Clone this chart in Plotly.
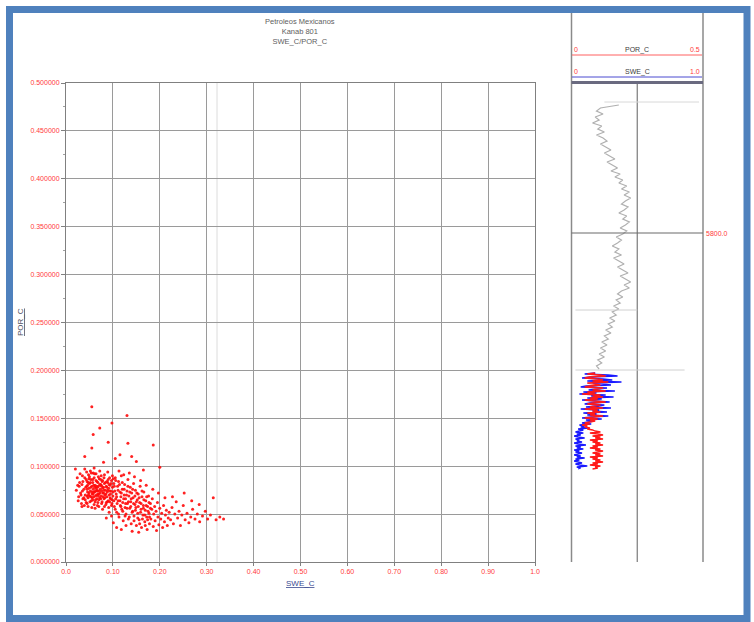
import plotly.graph_objects as go

# ---------------- data ----------------
title_lines = ["Petroleos Mexicanos", "Kanab 801", "SWE_C/POR_C"]
x_tick_vals = [0.0, 0.1, 0.2, 0.3, 0.4, 0.5, 0.6, 0.7, 0.8, 0.9, 1.0]
x_tick_text = ["0.0", "0.10", "0.20", "0.30", "0.40", "0.50", "0.60", "0.70", "0.80", "0.90", "1.0"]
y_tick_vals = [0.0, 0.05, 0.1, 0.15, 0.2, 0.25, 0.3, 0.35, 0.4, 0.45, 0.5]
y_tick_text = ["0.000000", "0.050000", "0.100000", "0.150000", "0.200000", "0.250000",
               "0.300000", "0.350000", "0.400000", "0.450000", "0.500000"]

swe_c = [
    0.031, 0.034, 0.036, 0.038, 0.040, 0.041, 0.043, 0.044, 0.045, 0.046, 0.047, 0.048, 0.049, 0.050,
    0.051, 0.052, 0.053, 0.054, 0.055, 0.056, 0.057, 0.058, 0.059, 0.060, 0.061, 0.062, 0.063, 0.064,
    0.065, 0.066, 0.067, 0.068, 0.069, 0.070, 0.071, 0.072, 0.073, 0.074, 0.075, 0.076, 0.077, 0.078,
    0.079, 0.080, 0.081, 0.082, 0.083, 0.084, 0.085, 0.086, 0.087, 0.088, 0.089, 0.090, 0.091, 0.092,
    0.094, 0.095, 0.096, 0.098, 0.099, 0.100, 0.052, 0.058, 0.064, 0.047, 0.055, 0.062, 0.070, 0.078,
    0.044, 0.039, 0.035, 0.029, 0.027, 0.033, 0.060, 0.072, 0.082, 0.089, 0.093, 0.097, 0.102, 0.104,
    0.106, 0.053, 0.066, 0.074, 0.059, 0.068, 0.049, 0.063, 0.057, 0.076, 0.045, 0.067,
    0.103, 0.105, 0.107, 0.108, 0.110, 0.111, 0.112, 0.113, 0.115, 0.116, 0.117, 0.118, 0.119, 0.120,
    0.121, 0.122, 0.124, 0.125, 0.126, 0.127, 0.128, 0.130, 0.131, 0.132, 0.133, 0.134, 0.136, 0.137,
    0.138, 0.139, 0.140, 0.142, 0.143, 0.144, 0.145, 0.147, 0.148, 0.149, 0.150, 0.152, 0.153, 0.154,
    0.156, 0.157, 0.158, 0.160, 0.161, 0.162, 0.164, 0.165, 0.166, 0.168, 0.169, 0.170, 0.172, 0.173,
    0.174, 0.176, 0.177, 0.178, 0.180, 0.181, 0.183, 0.184, 0.186, 0.187, 0.189, 0.190, 0.192, 0.193,
    0.195, 0.196, 0.198, 0.200, 0.202, 0.204, 0.206, 0.208, 0.210, 0.212, 0.214, 0.216, 0.218, 0.220,
    0.108, 0.118, 0.128, 0.141, 0.155, 0.097, 0.092, 0.086, 0.101, 0.113, 0.123, 0.135, 0.146, 0.159,
    0.171, 0.185, 0.197, 0.211,
    0.223, 0.226, 0.229, 0.232, 0.235, 0.238, 0.241, 0.244, 0.247, 0.250, 0.254, 0.258, 0.262, 0.266,
    0.270, 0.275, 0.280, 0.285, 0.291, 0.297, 0.302, 0.308, 0.314, 0.320, 0.328, 0.336, 0.227, 0.252,
    0.268, 0.284,
    0.055, 0.130, 0.058, 0.098, 0.072, 0.132, 0.186, 0.055, 0.115, 0.200, 0.105, 0.040, 0.080, 0.150,
    0.165, 0.090, 0.020, 0.025, 0.140,
    0.022, 0.024, 0.026, 0.028, 0.030, 0.032, 0.034, 0.036, 0.038, 0.040, 0.042, 0.043, 0.045, 0.046,
    0.048, 0.050, 0.051, 0.053, 0.054, 0.056, 0.057, 0.059, 0.060, 0.061, 0.063, 0.064, 0.066, 0.067,
    0.069, 0.070, 0.072, 0.073, 0.075, 0.076, 0.078, 0.079, 0.081, 0.082, 0.084, 0.085, 0.087, 0.088,
    0.090, 0.091, 0.093, 0.094, 0.096, 0.097, 0.099, 0.100, 0.102, 0.103, 0.105, 0.106, 0.108, 0.109,
    0.111, 0.112, 0.114, 0.115, 0.117, 0.118, 0.120, 0.121, 0.123, 0.124, 0.126, 0.127, 0.129, 0.130,
    0.132, 0.133, 0.135, 0.136, 0.138, 0.139, 0.141, 0.142, 0.144, 0.145, 0.147, 0.148, 0.150, 0.151,
    0.153, 0.154, 0.156, 0.157, 0.159, 0.160, 0.162, 0.163, 0.165, 0.166, 0.168, 0.169, 0.171, 0.172,
    0.174, 0.175, 0.177, 0.178, 0.180, 0.045, 0.052, 0.058, 0.065, 0.071, 0.077, 0.083, 0.089, 0.095,
    0.101, 0.062, 0.068, 0.074, 0.080, 0.086, 0.092, 0.098, 0.047, 0.055, 0.061, 0.069, 0.075, 0.081,
    0.087, 0.093, 0.035, 0.041, 0.049,
]
por_c = [
    0.072, 0.081, 0.066, 0.076, 0.088, 0.070, 0.062, 0.079, 0.084, 0.073, 0.067, 0.091, 0.077, 0.082,
    0.069, 0.074, 0.086, 0.064, 0.079, 0.071, 0.083, 0.076, 0.068, 0.088, 0.073, 0.080, 0.065, 0.077,
    0.070, 0.084, 0.074, 0.062, 0.079, 0.071, 0.087, 0.067, 0.076, 0.081, 0.069, 0.074, 0.063, 0.085,
    0.072, 0.078, 0.066, 0.082, 0.070, 0.075, 0.060, 0.079, 0.068, 0.073, 0.083, 0.064, 0.077, 0.070,
    0.080, 0.066, 0.074, 0.061, 0.078, 0.069, 0.095, 0.093, 0.092, 0.058, 0.057, 0.056, 0.058, 0.055,
    0.094, 0.059, 0.090, 0.083, 0.068, 0.061, 0.098, 0.095, 0.091, 0.094, 0.088, 0.085, 0.082, 0.074,
    0.066, 0.068, 0.066, 0.086, 0.073, 0.071, 0.072, 0.074, 0.065, 0.079, 0.069, 0.078,
    0.058, 0.088, 0.071, 0.052, 0.079, 0.064, 0.084, 0.047, 0.073, 0.059, 0.068, 0.090, 0.055, 0.076,
    0.062, 0.043, 0.070, 0.081, 0.057, 0.066, 0.050, 0.074, 0.061, 0.086, 0.045, 0.069, 0.056, 0.078,
    0.063, 0.040, 0.072, 0.053, 0.067, 0.082, 0.048, 0.060, 0.075, 0.057, 0.038, 0.065, 0.051, 0.071,
    0.044, 0.062, 0.079, 0.055, 0.036, 0.068, 0.049, 0.059, 0.073, 0.042, 0.054, 0.064, 0.047, 0.034,
    0.058, 0.069, 0.051, 0.040, 0.061, 0.045, 0.055, 0.066, 0.037, 0.050, 0.058, 0.043, 0.053, 0.033,
    0.062, 0.047, 0.039, 0.056, 0.045, 0.051, 0.036, 0.059, 0.042, 0.049, 0.054, 0.038, 0.046, 0.052,
    0.036, 0.034, 0.038, 0.032, 0.031, 0.048, 0.052, 0.046, 0.041, 0.095, 0.091, 0.093, 0.089, 0.085,
    0.080, 0.076, 0.072, 0.067,
    0.044, 0.057, 0.040, 0.050, 0.063, 0.046, 0.053, 0.038, 0.049, 0.059, 0.044, 0.051, 0.041, 0.047,
    0.055, 0.045, 0.050, 0.042, 0.048, 0.053, 0.045, 0.049, 0.067, 0.044, 0.047, 0.045, 0.068, 0.072,
    0.064, 0.060,
    0.162, 0.153, 0.133, 0.145, 0.140, 0.124, 0.122, 0.119, 0.112, 0.099, 0.108, 0.110, 0.104, 0.105,
    0.096, 0.125, 0.097, 0.080, 0.110,
    0.075, 0.088, 0.064, 0.079, 0.092, 0.070, 0.058, 0.084, 0.067, 0.097, 0.078, 0.086, 0.061, 0.080,
    0.070, 0.089, 0.063, 0.078, 0.093, 0.067, 0.086, 0.080, 0.060, 0.092, 0.069, 0.085, 0.075, 0.059,
    0.089, 0.065, 0.081, 0.072, 0.090, 0.061, 0.077, 0.068, 0.088, 0.058, 0.083, 0.071, 0.078, 0.063,
    0.086, 0.057, 0.074, 0.067, 0.082, 0.059, 0.090, 0.073, 0.064, 0.079, 0.055, 0.085, 0.068, 0.061,
    0.075, 0.050, 0.081, 0.064, 0.058, 0.072, 0.083, 0.053, 0.066, 0.076, 0.048, 0.061, 0.070, 0.056,
    0.079, 0.063, 0.047, 0.073, 0.058, 0.066, 0.052, 0.076, 0.061, 0.043, 0.069, 0.054, 0.063, 0.072,
    0.046, 0.058, 0.067, 0.040, 0.052, 0.061, 0.074, 0.045, 0.056, 0.065, 0.049, 0.038, 0.059, 0.068,
    0.044, 0.053, 0.062, 0.047, 0.056, 0.076, 0.083, 0.071, 0.079, 0.074, 0.084, 0.067, 0.075, 0.071,
    0.087, 0.063, 0.083, 0.066, 0.072, 0.062, 0.081, 0.065, 0.083, 0.073, 0.078, 0.069, 0.080, 0.075,
    0.084, 0.063, 0.074, 0.065, 0.087,
]

# log track: gray curve (0-1 scale) vs depth
gray_depth = [5672, 5675, 5678, 5681, 5684, 5687, 5690, 5693, 5696, 5699, 5702, 5705, 5708, 5711,
              5714, 5717, 5720, 5723, 5726, 5729, 5732, 5735, 5738, 5741, 5744, 5747, 5750, 5753,
              5756, 5759, 5762, 5765, 5768, 5771, 5774, 5777, 5780, 5783, 5786, 5789, 5792, 5795,
              5798, 5801, 5804, 5807, 5810, 5813, 5816, 5819, 5822, 5825, 5828, 5831, 5834, 5837,
              5840, 5843, 5846, 5849, 5852, 5855, 5858, 5861, 5864, 5867, 5870, 5873, 5876, 5879,
              5882, 5885, 5888, 5891, 5894, 5897, 5900, 5903, 5906, 5909, 5912, 5915, 5918, 5921,
              5924, 5927, 5930, 5933, 5936]
gray_val = [0.36, 0.22, 0.19, 0.24, 0.18, 0.21, 0.16, 0.23, 0.20, 0.25, 0.19, 0.24, 0.27, 0.22,
            0.26, 0.30, 0.25, 0.29, 0.33, 0.27, 0.31, 0.35, 0.30, 0.37, 0.33, 0.39, 0.36, 0.42,
            0.38, 0.44, 0.40, 0.45, 0.41, 0.38, 0.43, 0.40, 0.36, 0.42, 0.39, 0.44, 0.41, 0.37,
            0.42, 0.39, 0.34, 0.38, 0.35, 0.31, 0.36, 0.33, 0.38, 0.32, 0.36, 0.40, 0.35, 0.39,
            0.43, 0.37, 0.41, 0.45, 0.40, 0.44, 0.38, 0.35, 0.39, 0.34, 0.37, 0.32, 0.36, 0.31,
            0.34, 0.29, 0.33, 0.28, 0.31, 0.26, 0.30, 0.25, 0.28, 0.23, 0.27, 0.22, 0.26, 0.21,
            0.25, 0.20, 0.23, 0.19, 0.21]

log_depth = [5940, 5941, 5942, 5943, 5944, 5945, 5946, 5947, 5948, 5949, 5950, 5951, 5952, 5953,
             5954, 5955, 5956, 5957, 5958, 5959, 5960, 5961, 5962, 5963, 5964, 5965, 5966, 5967,
             5968, 5969, 5970, 5971, 5972, 5973, 5974, 5975, 5976, 5977, 5978, 5979, 5980, 5981,
             5982, 5983, 5984, 5985, 5986, 5987, 5988, 5989, 5990, 5991, 5992, 5993, 5994, 5995,
             5996, 5997, 5998, 5999, 6000, 6001, 6002, 6003, 6004, 6005, 6006, 6007, 6008, 6009,
             6010, 6011, 6012, 6013, 6014, 6015, 6016, 6017, 6018, 6019, 6020, 6021, 6022, 6023,
             6024, 6025, 6026, 6027, 6028, 6029, 6030, 6031, 6032, 6033, 6034, 6035, 6036]
log_por = [0.09, 0.06, 0.11, 0.13, 0.07, 0.05, 0.10, 0.12, 0.08, 0.14, 0.06, 0.09, 0.11, 0.07,
           0.05, 0.12, 0.10, 0.08, 0.13, 0.06, 0.09, 0.04, 0.11, 0.08, 0.12, 0.07, 0.10, 0.05,
           0.09, 0.13, 0.08, 0.06, 0.11, 0.09, 0.07, 0.12, 0.05, 0.10, 0.08, 0.11, 0.06, 0.09,
           0.07, 0.12, 0.08, 0.05, 0.10, 0.07, 0.09,
           0.06, 0.05, 0.07, 0.04, 0.06, 0.05, 0.07, 0.06, 0.08,
           0.09, 0.11, 0.07, 0.10, 0.12, 0.08, 0.11, 0.09, 0.12, 0.07, 0.10, 0.08, 0.11, 0.09,
           0.12, 0.08, 0.10, 0.07, 0.11, 0.09, 0.12, 0.10, 0.08, 0.11, 0.09, 0.12, 0.07, 0.10,
           0.08, 0.11, 0.09, 0.12, 0.08, 0.10, 0.07, 0.11, 0.09, 0.10, 0.08]
log_swe = [0.18, 0.10, 0.28, 0.35, 0.14, 0.08, 0.24, 0.31, 0.12, 0.38, 0.16, 0.22, 0.30, 0.11,
           0.07, 0.27, 0.20, 0.13, 0.33, 0.09, 0.19, 0.06, 0.26, 0.15, 0.32, 0.12, 0.23, 0.08,
           0.18, 0.29, 0.14, 0.10, 0.25, 0.20, 0.11, 0.30, 0.07, 0.21, 0.16, 0.27, 0.09, 0.19,
           0.12, 0.28, 0.15, 0.08, 0.23, 0.11, 0.17,
           0.12, 0.08, 0.15, 0.06, 0.10, 0.07, 0.13, 0.05, 0.09,
           0.06, 0.03, 0.09, 0.04, 0.07, 0.02, 0.05, 0.10, 0.03, 0.06, 0.04, 0.08, 0.02, 0.05,
           0.11, 0.03, 0.07, 0.04, 0.09, 0.02, 0.06, 0.03, 0.08, 0.05, 0.02, 0.07, 0.04, 0.10,
           0.03, 0.06, 0.02, 0.05, 0.08, 0.03, 0.06, 0.12, 0.04, 0.07, 0.05]
depth_label = 5800.0
depth_top, depth_bottom = 5650, 6129

# ---------------- layout helpers ----------------
W, H = 754, 622
def px(x):
    return x / W
def py(y):
    return 1 - y / H

RED_TXT = "#ff3a3a"
GRID = "#9a9a9a"
FONT = "Liberation Sans, Arial, sans-serif"

fig = go.Figure()

fig.add_trace(go.Scatter(
    x=swe_c, y=por_c, mode="markers",
    marker=dict(size=3, color="#ff0a0a", opacity=0.9, line=dict(width=0)),
    xaxis="x", yaxis="y", showlegend=False, hoverinfo="skip"))

fig.add_trace(go.Scatter(
    x=gray_val, y=gray_depth, mode="lines",
    line=dict(color="#b0b0b0", width=1.2),
    xaxis="x2", yaxis="y2", showlegend=False, hoverinfo="skip"))
fig.add_trace(go.Scatter(
    x=log_swe, y=log_depth, mode="lines",
    line=dict(color="#1a1aff", width=1.3),
    xaxis="x2", yaxis="y2", showlegend=False, hoverinfo="skip"))
fig.add_trace(go.Scatter(
    x=log_por, y=log_depth, mode="lines",
    line=dict(color="#ff1a1a", width=1.3),
    xaxis="x3", yaxis="y2", showlegend=False, hoverinfo="skip"))

tickfont = dict(family=FONT, size=7, color=RED_TXT)
fig.update_layout(
    width=W, height=H, margin=dict(l=0, r=0, t=0, b=0),
    paper_bgcolor="white", plot_bgcolor="white",
    xaxis=dict(domain=[px(66), px(535)], range=[0, 1], tickvals=x_tick_vals, ticktext=x_tick_text,
               tickfont=tickfont, showgrid=True, gridcolor=GRID, gridwidth=1, zeroline=False,
               showline=True, linecolor="#808080", mirror=True, ticks="outside", ticklen=3,
               tickcolor="#808080", automargin=False, anchor="y"),
    yaxis=dict(domain=[py(562), py(83)], range=[0, 0.5], tickvals=y_tick_vals, ticktext=y_tick_text,
               tickfont=tickfont, showgrid=True, gridcolor=GRID, gridwidth=1, zeroline=False,
               showline=True, linecolor="#808080", mirror=True, ticks="outside", ticklen=4,
               tickcolor="#808080", automargin=False, anchor="x",
               minor=dict(ticks="outside", ticklen=2, dtick=0.025, tickcolor="#a0a0a0", showgrid=False)),
    xaxis2=dict(domain=[px(571.5), px(703)], range=[0, 1], visible=False, anchor="y2"),
    xaxis3=dict(range=[0, 0.5], visible=False, overlaying="x2", anchor="y2"),
    yaxis2=dict(domain=[py(562), py(83)], range=[depth_bottom, depth_top], visible=False, anchor="x2"),
    showlegend=False,
)

shapes = []
shapes.append(dict(type="line", xref="x", yref="y", x0=0.322, x1=0.322, y0=0, y1=0.5,
                   line=dict(color="#dcdcdc", width=1), layer="below"))
for xx in (571.5, 703):
    shapes.append(dict(type="line", xref="paper", yref="paper", x0=px(xx), x1=px(xx),
                       y0=py(562), y1=py(13), line=dict(color="#8a8a8a", width=1.5)))
shapes.append(dict(type="line", xref="x2", yref="y2", x0=0.5, x1=0.5, y0=depth_top, y1=depth_bottom,
                   line=dict(color="#7a7a7a", width=1.2)))
shapes.append(dict(type="line", xref="paper", yref="y2", x0=px(571.5), x1=px(703), y0=depth_label,
                   y1=depth_label, line=dict(color="#6a6a6a", width=1.2)))
shapes.append(dict(type="line", xref="x2", yref="y2", x0=0.25, x1=0.97, y0=5669, y1=5669,
                   line=dict(color="#d8d8d8", width=1)))
shapes.append(dict(type="line", xref="x2", yref="y2", x0=0.03, x1=0.50, y0=5877, y1=5877,
                   line=dict(color="#d0d0d0", width=1)))
shapes.append(dict(type="line", xref="x2", yref="y2", x0=0.03, x1=0.86, y0=5937, y1=5937,
                   line=dict(color="#d0d0d0", width=1)))
shapes.append(dict(type="line", xref="paper", yref="paper", x0=px(572), x1=px(702), y0=py(55), y1=py(55),
                   line=dict(color="#ff6060", width=1)))
shapes.append(dict(type="line", xref="paper", yref="paper", x0=px(572), x1=px(702), y0=py(77), y1=py(77),
                   line=dict(color="#4a4ad0", width=1)))
shapes.append(dict(type="line", xref="paper", yref="paper", x0=px(571.5), x1=px(703), y0=py(82.5), y1=py(82.5),
                   line=dict(color="#6a6a80", width=3)))
shapes.append(dict(type="rect", xref="paper", yref="paper", x0=px(9.5), x1=px(747), y0=py(9.5), y1=py(618.5),
                   line=dict(color="#4f81bd", width=7)))
fig.update_layout(shapes=shapes)

ann = []
ann.append(dict(xref="paper", yref="paper", x=px(300), y=py(15), xanchor="center", yanchor="top",
                text="<br>".join(title_lines), showarrow=False, align="center",
                font=dict(family=FONT, size=7.5, color="#606060")))
ann.append(dict(xref="paper", yref="paper", x=px(300), y=py(583), xanchor="center", yanchor="middle",
                text="<u>SWE_C</u>", showarrow=False, font=dict(family=FONT, size=8, color="#3a4a90")))
ann.append(dict(xref="paper", yref="paper", x=px(20), y=py(322), xanchor="center", yanchor="middle",
                text="<u>POR_C</u>", textangle=-90, showarrow=False,
                font=dict(family=FONT, size=8, color="#505060")))
hdr = dict(family=FONT, size=7)
for yy, name, hi in ((50, "POR_C", "0.5"), (72, "SWE_C", "1.0")):
    ann.append(dict(xref="paper", yref="paper", x=px(572), y=py(yy), xanchor="left", yanchor="middle",
                    text="0", showarrow=False, font=dict(hdr, color=RED_TXT)))
    ann.append(dict(xref="paper", yref="paper", x=px(637), y=py(yy), xanchor="center", yanchor="middle",
                    text=name, showarrow=False, font=dict(hdr, color="#404040")))
    ann.append(dict(xref="paper", yref="paper", x=px(702), y=py(yy), xanchor="right", yanchor="middle",
                    text=hi, showarrow=False, font=dict(hdr, color=RED_TXT)))
ann.append(dict(xref="paper", yref="y2", x=px(704), y=depth_label, xanchor="left", yanchor="middle",
                text=f"{depth_label:.1f}", showarrow=False, font=dict(hdr, color=RED_TXT)))
fig.update_layout(annotations=ann)

fig.write_html("out.html", config={"displayModeBar": False},
               post_script="document.body.style.margin='0';document.body.style.overflow='hidden';")
